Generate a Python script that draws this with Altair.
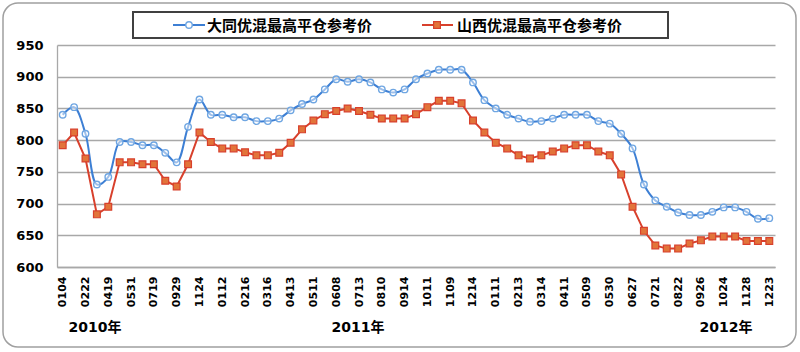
import altair as alt
import pandas as pd

# ---- data ----
LABELS = ["0104", "0222", "0419", "0531", "0719", "0929", "1124",
          "0112", "0216", "0316", "0413", "0511", "0608", "0713", "0810",
          "0914", "1011", "1109", "1214",
          "0111", "0213", "0314", "0411", "0509", "0530", "0627", "0721",
          "0822", "0926", "1024", "1128", "1223"]
SERIES = ["大同优混最高平仓参考价", "山西优混最高平仓参考价"]
YEARS = ["2010年", "2011年", "2012年"]

DATONG = [840, 852, 810, 730, 742, 797, 797, 792, 792, 780, 765, 821, 864,
          840, 840, 836, 836, 830, 830, 834, 847, 857, 864, 880, 896, 892,
          896, 891, 880, 875, 880, 896, 905, 911, 911, 911, 891, 863, 850,
          840, 834, 829, 830, 834, 840, 840, 840, 830, 826, 810, 787, 730,
          705, 695, 686, 682, 682, 687, 694, 694, 687, 676, 677]
SHANXI = [792, 812, 771, 683, 695, 765, 765, 762, 762, 736, 727, 762, 812,
          797, 787, 787, 781, 776, 776, 780, 796, 817, 831, 841, 846, 850,
          846, 840, 834, 834, 834, 841, 852, 862, 862, 858, 831, 812, 796,
          787, 776, 771, 776, 782, 787, 792, 792, 782, 776, 746, 695, 657,
          634, 629, 629, 637, 642, 648, 648, 648, 641, 641, 641]

N = len(DATONG)
df_a = pd.DataFrame({"idx": list(range(N)), "value": DATONG, "series": SERIES[0]})
df_b = pd.DataFrame({"idx": list(range(N)), "value": SHANXI, "series": SERIES[1]})

BLUE_LINE = "#3d7fd4"
BLUE_MARK = "#6fa6e2"
RED_LINE = "#d8402c"
RED_FILL = "#e2743a"
GRID = "#a8a8a8"
NUM_FONT = "DejaVu Sans"
CJK_FONT = "Noto Sans CJK SC"

label_js = "[" + ",".join("'%s'" % s for s in LABELS) + "][round(datum.value/2)]"

x_enc = alt.X(
    "idx:Q",
    scale=alt.Scale(domain=[-0.5, N - 0.5], nice=False, zero=False),
    axis=alt.Axis(values=list(range(0, N, 2)), labelExpr=label_js, labelAngle=270,
                  grid=False, ticks=False, domainColor=GRID, domainWidth=1.3,
                  labelFont=NUM_FONT, labelFontWeight="bold", labelFontSize=11,
                  labelColor="black", labelPadding=9, title=None, labelOverlap=False),
)
y_enc = alt.Y(
    "value:Q",
    scale=alt.Scale(domain=[600, 950], nice=False, zero=False),
    axis=alt.Axis(values=list(range(600, 951, 50)), grid=True, gridColor=GRID,
                  gridWidth=1.3, ticks=False, domainColor=GRID, domainWidth=1.3,
                  labelFont=NUM_FONT, labelFontWeight="bold", labelFontSize=13,
                  labelColor="black", labelPadding=14, title=None, labelOverlap=False),
)

one = pd.DataFrame({"k": [0]})

frame = alt.Chart(one).mark_rect(
    cornerRadius=15, fill="white", fillOpacity=0, stroke="#a0a0a0", strokeWidth=1.5
).encode(x=alt.value(-54), x2=alt.value(739), y=alt.value(-42), y2=alt.value(302))

blue_line = alt.Chart(df_a).mark_line(
    interpolate="catmull-rom", color=BLUE_LINE, strokeWidth=2
).encode(x=x_enc, y=y_enc)
blue_pts = alt.Chart(df_a).mark_point(
    shape="circle", size=42, fill="white", fillOpacity=0.5, stroke=BLUE_MARK,
    strokeWidth=1.4, opacity=1
).encode(x=x_enc, y=y_enc)

red_line = alt.Chart(df_b).mark_line(color=RED_LINE, strokeWidth=2).encode(x=x_enc, y=y_enc)
red_pts = alt.Chart(df_b).mark_point(
    shape="square", size=46, fill=RED_FILL, stroke=RED_LINE, strokeWidth=1.2,
    filled=True, opacity=1
).encode(x=x_enc, y=y_enc)

# legend (manual, boxed at the top)
leg_box = alt.Chart(one).mark_rect(fill="white", stroke="#404040", strokeWidth=2).encode(
    x=alt.value(76), x2=alt.value(611), y=alt.value(-33), y2=alt.value(-7))
leg_l1 = alt.Chart(one).mark_rule(color=BLUE_LINE, strokeWidth=2).encode(
    x=alt.value(116), x2=alt.value(148), y=alt.value(-20))
leg_p1 = alt.Chart(one).mark_point(shape="circle", size=42, fill="white", stroke=BLUE_MARK,
                                   strokeWidth=1.4, opacity=1).encode(
    x=alt.value(132), y=alt.value(-20))
leg_t1 = alt.Chart(one).mark_text(align="left", baseline="middle", font=CJK_FONT,
                                  fontWeight="bold", fontSize=15, color="black").encode(
    x=alt.value(150), y=alt.value(-19), text=alt.value(SERIES[0]))
leg_l2 = alt.Chart(one).mark_rule(color=RED_LINE, strokeWidth=2).encode(
    x=alt.value(365), x2=alt.value(396), y=alt.value(-20))
leg_p2 = alt.Chart(one).mark_point(shape="square", size=46, fill=RED_FILL, stroke=RED_LINE,
                                   strokeWidth=1.2, filled=True, opacity=1).encode(
    x=alt.value(380), y=alt.value(-20))
leg_t2 = alt.Chart(one).mark_text(align="left", baseline="middle", font=CJK_FONT,
                                  fontWeight="bold", fontSize=15, color="black").encode(
    x=alt.value(400), y=alt.value(-19), text=alt.value(SERIES[1]))

year_font = NUM_FONT + ", " + CJK_FONT
yr = [alt.Chart(one).mark_text(align="center", baseline="middle", font=year_font,
                               fontWeight="bold", fontSize=14, color="black").encode(
    x=alt.value(px), y=alt.value(283), text=alt.value(t))
      for t, px in zip(YEARS, [38, 301, 669])]

chart = alt.layer(
    frame, blue_line, red_line, blue_pts, red_pts,
    leg_box, leg_l1, leg_p1, leg_t1, leg_l2, leg_p2, leg_t2, *yr
).properties(
    width=718, height=222,
    autosize=alt.AutoSizeParams(type="none"),
    padding={"left": 57, "top": 45, "right": 25, "bottom": 85},
    background="white",
).configure_view(strokeWidth=0)

chart.save("out.html", embed_options={"renderer": "svg", "actions": False})
